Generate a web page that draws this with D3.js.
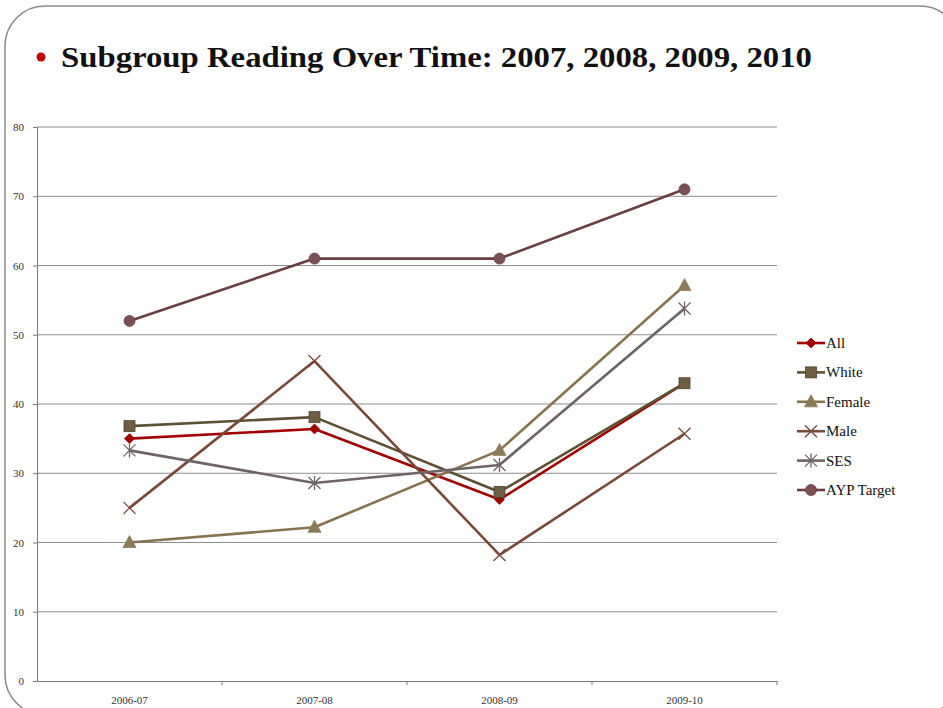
<!DOCTYPE html>
<html>
<head>
<meta charset="utf-8">
<script src="https://cdn.jsdelivr.net/npm/d3@7"></script>
<style>
  html, body { margin: 0; padding: 0; background: #fff; }
  svg { display: block; }
</style>
</head>
<body>
<svg id="chart" width="943" height="708"></svg>
<script>
const categories = ["2006-07", "2007-08", "2008-09", "2009-10"];
const yTicks = [0, 10, 20, 30, 40, 50, 60, 70, 80];
const seriesNames = ["All", "White", "Female", "Male", "SES", "AYP Target"];
const allValues = [35.0, 36.4, 26.2, 43.0];
const whiteValues = [36.8, 38.1, 27.3, 43.0];
const femaleValues = [20.0, 22.2, 33.3, 57.1];
const maleValues = [25.0, 46.2, 18.2, 35.7];
const sesValues = [33.3, 28.6, 31.2, 53.8];
const aypValues = [52, 61, 61, 71];
const titleText = "Subgroup Reading Over Time: 2007, 2008, 2009, 2010";

const series = [
  { name: seriesNames[0], values: allValues, color: "#A00000", fill: "#A00000", marker: "diamond" },
  { name: seriesNames[1], values: whiteValues, color: "#5E5035", fill: "#6E5F43", marker: "square" },
  { name: seriesNames[2], values: femaleValues, color: "#85744F", fill: "#8B7B58", marker: "triangle" },
  { name: seriesNames[3], values: maleValues, color: "#784A3B", fill: "#784A3B", marker: "x" },
  { name: seriesNames[4], values: sesValues, color: "#6E6468", fill: "#6E6468", marker: "star" },
  { name: seriesNames[5], values: aypValues, color: "#6A3F44", fill: "#7A5055", marker: "circle" }
];

const svg = d3.select("#chart");
const serif = "'Liberation Serif', 'DejaVu Serif', serif";

// slide border (rounded)
svg.append("rect")
  .attr("x", 5).attr("y", 6).attr("width", 955).attr("height", 709)
  .attr("rx", 40).attr("ry", 40)
  .attr("fill", "none").attr("stroke", "#8a8a8a").attr("stroke-width", 1.5);

// title bullet + title
svg.append("circle").attr("cx", 41).attr("cy", 57).attr("r", 4.5).attr("fill", "#C00000");
svg.append("text")
  .attr("x", 61).attr("y", 67)
  .attr("font-family", serif).attr("font-weight", "bold").attr("font-size", 30)
  .attr("fill", "#111")
  .attr("textLength", 751).attr("lengthAdjust", "spacingAndGlyphs")
  .text(titleText);

const plot = { left: 37, right: 777, top: 127, bottom: 681 };

const x = d3.scaleBand().domain(categories).range([plot.left, plot.right]);
const y = d3.scaleLinear().domain([0, 80]).range([plot.bottom, plot.top]);
const cx = d => x(d) + x.bandwidth() / 2;

// gridlines
svg.append("g").selectAll("line").data(yTicks.filter(t => t > 0)).join("line")
  .attr("x1", plot.left).attr("x2", plot.right)
  .attr("y1", d => y(d)).attr("y2", d => y(d))
  .attr("stroke", "#8c8c8c").attr("stroke-width", 1);

// y axis
const yAxis = svg.append("g").attr("transform", `translate(${plot.left},0)`)
  .call(d3.axisLeft(y).tickValues(yTicks).tickSize(4).tickPadding(9).tickFormat(d3.format("d")));
yAxis.attr("font-family", serif);
yAxis.select(".domain").attr("stroke", "#7a7a7a");
yAxis.selectAll(".tick line").attr("stroke", "#7a7a7a");
yAxis.selectAll("text").attr("font-family", serif).attr("font-size", 11).attr("fill", "#333");

// x axis
const xAxis = svg.append("g").attr("transform", `translate(0,${plot.bottom})`)
  .call(d3.axisBottom(x).tickSize(0).tickPadding(15));
xAxis.attr("font-family", serif);
xAxis.select(".domain").attr("stroke", "#7a7a7a");
xAxis.selectAll("text").attr("font-family", serif).attr("font-size", 11).attr("fill", "#333");
// category boundary ticks
svg.append("g").selectAll("line")
  .data(categories.map(c => x(c)).concat([plot.right]).slice(1))
  .join("line")
  .attr("x1", d => d).attr("x2", d => d)
  .attr("y1", plot.bottom).attr("y2", plot.bottom + 4)
  .attr("stroke", "#7a7a7a");

function drawMarker(g, type, px, py, s) {
  if (type === "diamond") {
    g.append("path").attr("d", `M${px},${py-5}L${px+5},${py}L${px},${py+5}L${px-5},${py}Z`)
      .attr("fill", s.fill).attr("stroke", s.color).attr("stroke-width", 0.8);
  } else if (type === "square") {
    g.append("rect").attr("x", px - 5.5).attr("y", py - 5.5).attr("width", 11).attr("height", 11)
      .attr("fill", s.fill).attr("stroke", "#4f432c").attr("stroke-width", 0.8);
  } else if (type === "triangle") {
    g.append("path").attr("d", `M${px},${py-7}L${px+6.5},${py+5}L${px-6.5},${py+5}Z`)
      .attr("fill", s.fill).attr("stroke", s.fill).attr("stroke-width", 0.8);
  } else if (type === "x") {
    g.append("path").attr("d", `M${px-6},${py-6}L${px+6},${py+6}M${px-6},${py+6}L${px+6},${py-6}`)
      .attr("stroke", s.color).attr("stroke-width", 1.3).attr("fill", "none");
  } else if (type === "star") {
    g.append("path").attr("d", `M${px-6},${py-6}L${px+6},${py+6}M${px-6},${py+6}L${px+6},${py-6}M${px},${py-7}L${px},${py+7}`)
      .attr("stroke", s.color).attr("stroke-width", 1.3).attr("fill", "none");
  } else if (type === "circle") {
    g.append("circle").attr("cx", px).attr("cy", py).attr("r", 5.5)
      .attr("fill", s.fill).attr("stroke", s.color).attr("stroke-width", 0.8);
  }
}

const line = d3.line().x((d, i) => cx(categories[i])).y(d => y(d));

// draw series
series.forEach(s => {
  const g = svg.append("g");
  g.append("path").attr("d", line(s.values))
    .attr("fill", "none").attr("stroke", s.color).attr("stroke-width", 2.6)
    .attr("stroke-linejoin", "round");
  s.values.forEach((v, i) => drawMarker(g, s.marker, cx(categories[i]), y(v), s));
});

// legend
const legendY = d3.scalePoint().domain(seriesNames).range([343, 490]);
series.forEach(s => {
  const ly = legendY(s.name);
  const g = svg.append("g");
  g.append("line").attr("x1", 797).attr("x2", 825).attr("y1", ly).attr("y2", ly)
    .attr("stroke", s.color).attr("stroke-width", 2.6);
  drawMarker(g, s.marker, 811, ly, s);
  g.append("text").attr("x", 826).attr("y", ly + 5)
    .attr("font-family", serif).attr("font-size", 15).attr("fill", "#111")
    .text(s.name);
});
</script>
</body>
</html>
